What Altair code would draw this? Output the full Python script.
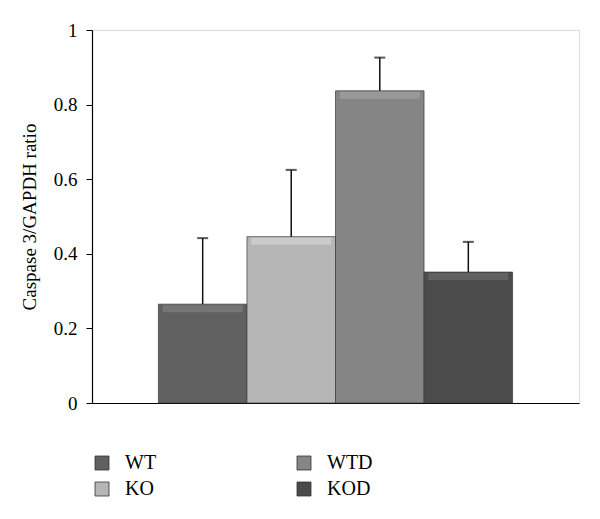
import altair as alt
import pandas as pd

groups = ["WT", "KO", "WTD", "KOD"]
means = [0.265, 0.446, 0.837, 0.351]
upper = [0.442, 0.625, 0.926, 0.432]

fill_colors = ["#606060", "#b6b6b6", "#858585", "#4b4b4b"]
bevel_colors = ["#7c7c7c", "#d2d2d2", "#a0a0a0", "#686868"]

df = pd.DataFrame({"group": groups, "mean": means, "upper": upper})

FONT = "Liberation Serif"

x = alt.X(
    "group:N",
    sort=groups,
    scale=alt.Scale(paddingInner=0, paddingOuter=0.75),
    axis=alt.Axis(labels=False, ticks=False, title=None, domainColor="#000000", domainWidth=1.2),
)

bars = alt.Chart(df).mark_bar(stroke="#3a3a3a", strokeWidth=1, strokeOpacity=0.7).encode(
    x=x,
    y=alt.Y(
        "mean:Q",
        scale=alt.Scale(domain=[0, 1], nice=False),
        axis=alt.Axis(
            values=[0, 0.2, 0.4, 0.6, 0.8, 1],
            format="~g",
            title="Caspase 3/GAPDH ratio",
            titleFont=FONT,
            titleFontSize=19,
            titleFontWeight="normal",
            titleColor="#000000",
            titlePadding=14,
            labelFont=FONT,
            labelFontSize=19,
            labelColor="#000000",
            labelPadding=9,
            tickSize=6,
            tickColor="#000000",
            domainColor="#000000",
            domainWidth=1.2,
            grid=False,
        ),
    ),
    color=alt.Color(
        "group:N",
        scale=alt.Scale(domain=groups, range=fill_colors),
        legend=alt.Legend(
            title=None,
            orient="none",
            legendX=0,
            legendY=423,
            direction="vertical",
            columns=2,
            columnPadding=137,
            rowPadding=6,
            symbolType="square",
            symbolSize=196,
            symbolStrokeColor="#333333",
            symbolStrokeWidth=0.8,
            labelFont=FONT,
            labelFontSize=20,
            labelColor="#000000",
            labelOffset=13,
        ),
    ),
)

bevel = alt.Chart(df).mark_tick(size=80, thickness=7, yOffset=4.5, opacity=0.75).encode(
    x=alt.X("group:N", sort=groups),
    y=alt.Y("mean:Q"),
    color=alt.Color(
        "group:N",
        scale=alt.Scale(domain=groups, range=bevel_colors),
        legend=None,
    ),
)

err = alt.Chart(df).mark_rule(color="#111111", strokeWidth=1.5).encode(
    x=alt.X("group:N", sort=groups),
    y=alt.Y("mean:Q"),
    y2="upper:Q",
)

cap = alt.Chart(df).mark_tick(color="#111111", size=11, thickness=2).encode(
    x=alt.X("group:N", sort=groups),
    y=alt.Y("upper:Q"),
)

chart = (
    alt.layer(bars, bevel, err, cap)
    .resolve_scale(color="independent")
    .properties(
        width=487,
        height=373,
        autosize=alt.AutoSizeParams(type="none"),
        padding={"left": 84, "top": 22, "right": 5, "bottom": 100},
    )
    .configure_view(stroke=None)
    .configure_legend(labelFont=FONT)
    .configure(background="#ffffff", font=FONT)
)

chart.save("out.html", embed_options={"renderer": "svg", "actions": False})
